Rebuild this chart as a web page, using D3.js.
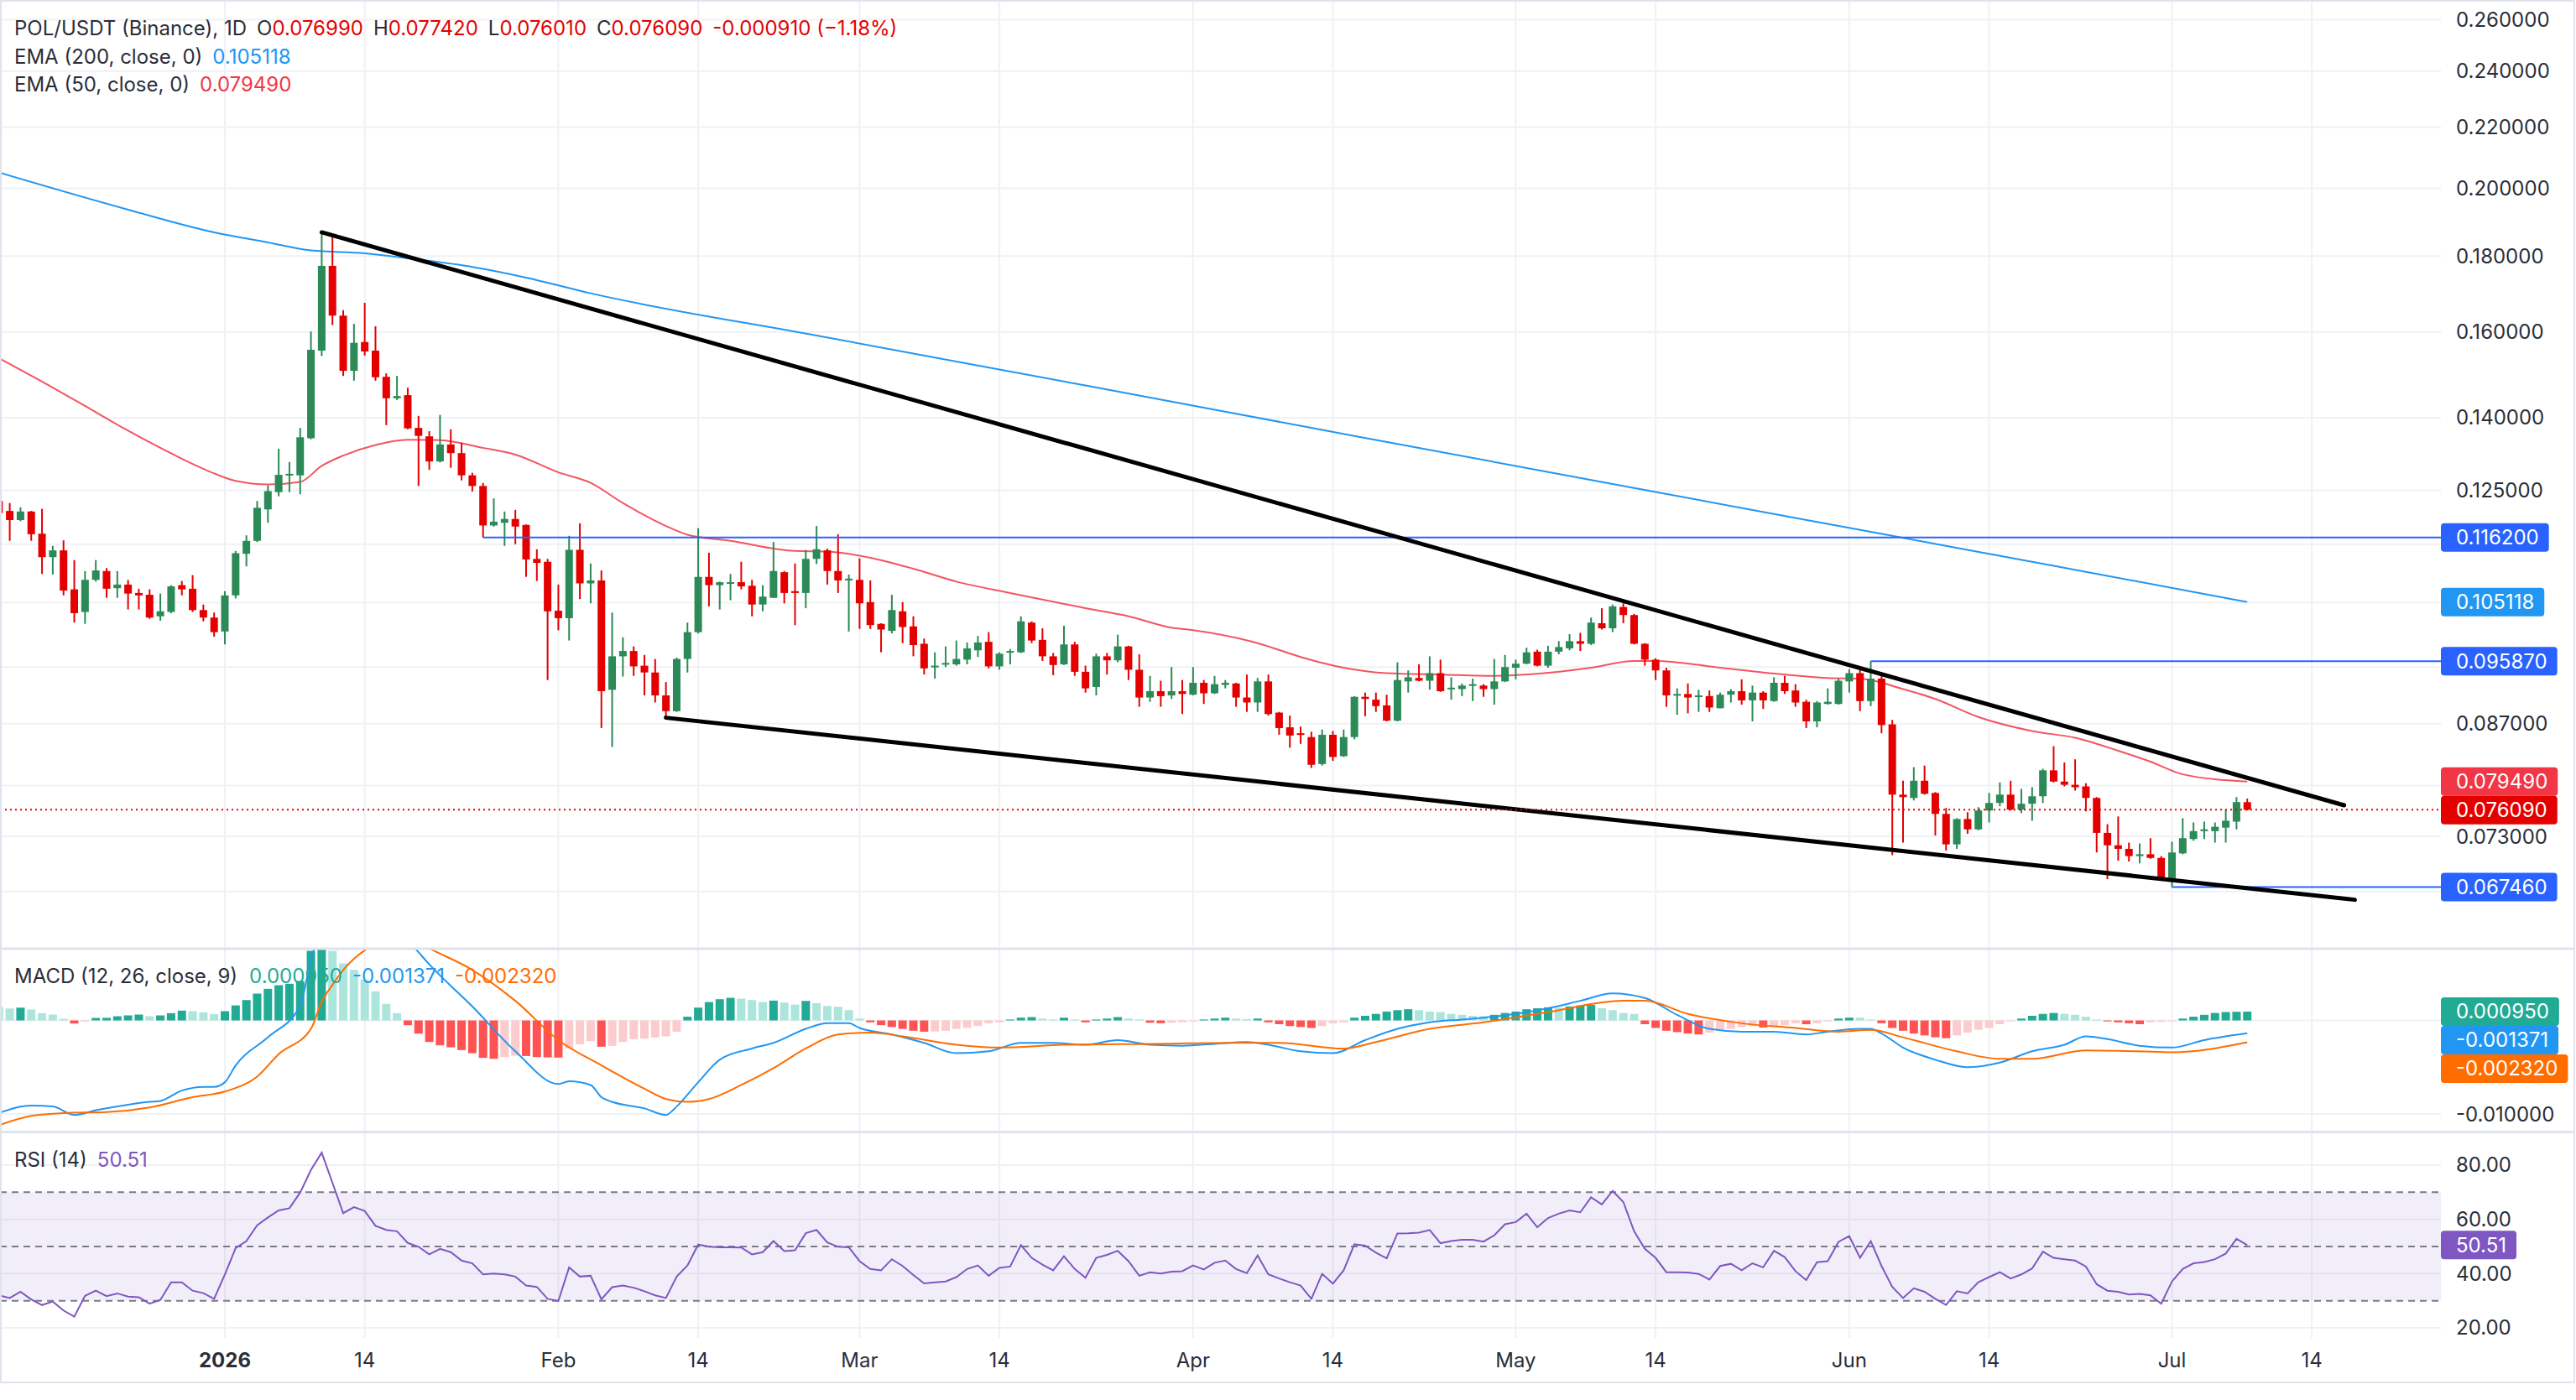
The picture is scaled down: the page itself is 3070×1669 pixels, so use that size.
<!DOCTYPE html>
<html>
<head>
<meta charset="utf-8">
<script src="https://cdn.jsdelivr.net/npm/d3@7"></script>
<style>
  html, body { margin: 0; padding: 0; background: #ffffff; }
  svg { display: block; font-family: Inter, "Noto Sans", sans-serif; }
</style>
</head>
<body>
<script>
// ---- data (days are counted from 2026-01-01, one candle per day) ----
const firstDay = -21;

const opens = [
  0.1230,0.1211,0.1194,0.1210,0.1169,0.1127,0.1139,0.1072,0.1035,0.1088,0.1103,0.1074,0.1080,0.1066,0.1063,0.1028,0.1035,0.1079,0.1073,0.1038,0.1026,
  0.1004,0.1062,0.1133,0.1156,0.1214,0.1247,0.1280,0.1280,0.1356,0.1554,
  0.1773,0.1641,0.1506,0.1575,0.1554,0.1492,0.1443,0.1450,0.1378,0.1360,
  0.1308,0.1343,0.1325,0.1280,0.1259,0.1184,0.1189,0.1196,0.1185,0.1124,
  0.1119,0.1037,0.1025,0.1140,0.1082,0.1087,0.0917,0.0966,0.0974,0.0952,
  0.0942,0.0909,0.0887,0.0962,0.1003,0.1093,0.1079,0.1082,0.1084,0.1078,
  0.1047,0.1058,0.1101,0.1069,0.1066,0.1124,0.1139,0.1103,0.1087,0.1088,
  0.1051,0.1016,0.1005,0.1036,0.1012,0.0985,0.0950,0.0954,0.0954,0.0961,
  0.0975,0.0988,0.0951,0.0972,0.0972,0.1018,0.0991,0.0966,0.0954,0.0984,
  0.0943,0.0921,0.0966,0.0960,0.0981,0.0946,0.0906,0.0915,0.0909,0.0915,
  0.0910,0.0927,0.0912,0.0924,0.0926,0.0906,0.0899,0.0929,0.0885,0.0865,
  0.0857,0.0852,0.0817,0.0855,0.0827,0.0852,0.0907,0.0903,0.0895,0.0874,
  0.0929,0.0934,0.0930,0.0941,0.0918,0.0918,0.0923,0.0923,0.0918,0.0929,
  0.0949,0.0955,0.0973,0.0952,0.0973,0.0978,0.0989,0.0985,0.1017,0.1009,
  0.1043,0.1030,0.0985,0.0961,0.0945,0.0909,0.0911,0.0907,0.0908,0.0891,
  0.0910,0.0915,0.0902,0.0913,0.0901,0.0927,0.0916,0.0900,0.0873,0.0897,
  0.0897,0.0929,0.0941,0.0901,0.0933,0.0869,0.0779,0.0775,0.0796,0.0781,
  0.0756,0.0721,0.0750,0.0738,0.0760,0.0769,0.0779,0.0761,0.0768,0.0777,
  0.0809,0.0795,0.0791,0.0789,0.0775,0.0734,0.0720,0.0716,0.0708,0.0710,
  0.0706,0.0684,0.0711,0.0727,0.0736,0.0736,0.0740,0.0747,0.07699
];
const highs = [
  0.1239,0.1226,0.1218,0.1211,0.1215,0.1147,0.1157,0.1122,0.1103,0.1122,0.1108,0.1103,0.1088,0.1073,0.1072,0.1065,0.1079,0.1086,0.1096,0.1047,0.1034,
  0.1069,0.1138,0.1166,0.1230,0.1260,0.1334,0.1307,0.1378,0.1601,0.1868,
  0.1858,0.1655,0.1620,0.1674,0.1614,0.1500,0.1494,0.1467,0.1404,0.1371,
  0.1406,0.1375,0.1346,0.1285,0.1265,0.1235,0.1210,0.1213,0.1186,0.1141,
  0.1124,0.1080,0.1165,0.1188,0.1116,0.1104,0.1034,0.0995,0.0981,0.0968,
  0.0962,0.0928,0.0964,0.1018,0.1179,0.1135,0.1085,0.1098,0.1119,0.1088,
  0.1079,0.1154,0.1103,0.1116,0.1140,0.1183,0.1142,0.1168,0.1097,0.1125,
  0.1087,0.1017,0.1063,0.1051,0.1028,0.0993,0.0972,0.0981,0.0990,0.0987,
  0.0997,0.1003,0.0972,0.0977,0.1028,0.1020,0.1009,0.0971,0.1013,0.0988,
  0.0952,0.0970,0.0971,0.0999,0.0982,0.0969,0.0937,0.0930,0.0950,0.0931,
  0.0950,0.0931,0.0937,0.0931,0.0927,0.0939,0.0934,0.0939,0.0886,0.0881,
  0.0866,0.0859,0.0862,0.0860,0.0862,0.0908,0.0913,0.0913,0.0910,0.0957,
  0.0945,0.0954,0.0966,0.0961,0.0935,0.0926,0.0933,0.0925,0.0962,0.0968,
  0.0961,0.0979,0.0976,0.0982,0.0989,0.1000,0.1002,0.1026,0.1041,0.1047,
  0.1049,0.1032,0.0986,0.0963,0.0949,0.0919,0.0926,0.0917,0.0916,0.0913,
  0.0918,0.0932,0.0923,0.0915,0.0935,0.0937,0.0925,0.0903,0.0901,0.0919,
  0.0933,0.0947,0.0946,0.09587,0.0939,0.0875,0.0796,0.0813,0.0815,0.0782,
  0.0763,0.0751,0.0758,0.0764,0.0781,0.0794,0.0796,0.0786,0.0788,0.0811,
  0.0840,0.0819,0.0823,0.0793,0.0776,0.0744,0.0753,0.0723,0.0722,0.0728,
  0.0708,0.0724,0.0751,0.0746,0.0747,0.0746,0.0761,0.0776,0.07742
];
const lows = [
  0.1194,0.1156,0.1192,0.1156,0.1098,0.1097,0.1062,0.1018,0.1016,0.1085,0.1058,0.1058,0.1039,0.1039,0.1024,0.1021,0.1033,0.1062,0.1035,0.1020,0.0996,
  0.0984,0.1057,0.1111,0.1154,0.1189,0.1239,0.1247,0.1243,0.1354,0.1541,
  0.1617,0.1494,0.1483,0.1542,0.1483,0.1384,0.1439,0.1375,0.1259,0.1291,
  0.1306,0.1295,0.1270,0.1248,0.1162,0.1182,0.1147,0.1150,0.1093,0.1086,
  0.0931,0.1006,0.0990,0.1056,0.1049,0.0864,0.0839,0.0936,0.0937,0.0909,
  0.0899,0.0878,0.0886,0.0942,0.1001,0.1044,0.1039,0.1054,0.1072,0.1028,
  0.1036,0.1058,0.1049,0.1014,0.1041,0.1115,0.1080,0.1066,0.1004,0.1008,
  0.1008,0.0972,0.1001,0.0986,0.0966,0.0939,0.0933,0.0950,0.0952,0.0954,
  0.0965,0.0948,0.0946,0.0954,0.0971,0.0986,0.0959,0.0938,0.0953,0.0937,
  0.0913,0.0909,0.0939,0.0957,0.0931,0.0893,0.0900,0.0893,0.0904,0.0883,
  0.0909,0.0897,0.0911,0.0919,0.0893,0.0886,0.0886,0.0881,0.0855,0.0838,
  0.0843,0.0812,0.0815,0.0821,0.0826,0.0849,0.0880,0.0886,0.0873,0.0873,
  0.0913,0.0929,0.0917,0.0914,0.0903,0.0908,0.0901,0.0907,0.0896,0.0928,
  0.0932,0.0954,0.0951,0.0949,0.0969,0.0975,0.0974,0.0983,0.1007,0.1003,
  0.1017,0.0984,0.0952,0.0931,0.0893,0.0882,0.0884,0.0886,0.0886,0.0891,
  0.0899,0.0896,0.0873,0.0890,0.0900,0.0911,0.0893,0.0864,0.0865,0.0896,
  0.0896,0.0913,0.0887,0.0894,0.0857,0.0709,0.0723,0.0772,0.0779,0.0731,
  0.0714,0.0716,0.0733,0.0737,0.0746,0.0765,0.0760,0.0757,0.0748,0.0769,
  0.0794,0.0789,0.0784,0.0759,0.0712,0.0683,0.0703,0.0702,0.0700,0.0705,
  0.0682,0.06746,0.0710,0.0725,0.0727,0.0723,0.0723,0.0738,0.07601
];
const closes = [
  0.1207,0.1194,0.1210,0.1168,0.1127,0.1139,0.1070,0.1033,0.1088,0.1104,0.1073,0.1080,0.1065,0.1062,0.1026,0.1036,0.1077,0.1072,0.1038,0.1026,0.1003,
  0.1062,0.1134,0.1156,0.1217,0.1249,0.1281,0.1283,0.1358,0.1556,0.1773,
  0.1641,0.1506,0.1573,0.1552,0.1491,0.1443,0.1448,0.1377,0.1361,0.1308,
  0.1343,0.1325,0.1280,0.1259,0.1184,0.1191,0.1196,0.1182,0.1123,0.1117,
  0.1036,0.1025,0.1140,0.1082,0.1087,0.0915,0.0966,0.0974,0.0951,0.0942,
  0.0909,0.0887,0.0962,0.1003,0.1093,0.1079,0.1084,0.1084,0.1077,0.1047,
  0.1060,0.1103,0.1066,0.1066,0.1124,0.1141,0.1103,0.1087,0.1090,0.1049,
  0.1014,0.1007,0.1038,0.1011,0.0983,0.0948,0.0952,0.0956,0.0962,0.0978,
  0.0987,0.0951,0.0970,0.0974,0.1020,0.0990,0.0966,0.0953,0.0984,0.0943,
  0.0919,0.0966,0.0960,0.0981,0.0946,0.0906,0.0915,0.0908,0.0915,0.0911,
  0.0927,0.0912,0.0925,0.0927,0.0906,0.0899,0.0929,0.0883,0.0864,0.0854,
  0.0855,0.0816,0.0855,0.0826,0.0852,0.0907,0.0904,0.0894,0.0874,0.0931,
  0.0935,0.0930,0.0941,0.0915,0.0920,0.0923,0.0925,0.0918,0.0929,0.0950,
  0.0955,0.0972,0.0952,0.0973,0.0980,0.0989,0.0985,0.1018,0.1009,0.1044,
  0.1030,0.0985,0.0961,0.0945,0.0909,0.0911,0.0906,0.0909,0.0892,0.0910,
  0.0915,0.0902,0.0913,0.0902,0.0927,0.0915,0.0899,0.0873,0.0899,0.0900,
  0.0930,0.0941,0.0901,0.0933,0.0868,0.0779,0.0776,0.0796,0.0780,0.0756,
  0.0721,0.0750,0.0738,0.0760,0.0769,0.0779,0.0761,0.0768,0.0777,0.0809,
  0.0795,0.0791,0.0788,0.0775,0.0734,0.0720,0.0716,0.0708,0.0710,0.0706,
  0.0684,0.0712,0.0728,0.0736,0.0738,0.0741,0.0748,0.0770,0.07609
];

const ema200Days   = [-21, -9, -1, 4, 8, 13, 17, 23, 28, 34, 55, 80, 105, 131, 155, 170, 188];
const ema200Values = [0.2050, 0.1935, 0.1868, 0.1839, 0.1816, 0.1808, 0.1794, 0.1770, 0.1741, 0.1699, 0.1591, 0.1472, 0.1361, 0.1255, 0.1165, 0.1112, 0.105118];

const ema50Days   = [-21, -17, -13, -10, -6, -2, 1, 4, 7, 9, 11, 14, 17, 20, 24, 27, 31, 34, 37, 41, 43, 47, 53, 56, 60, 64, 68, 73, 80, 84, 88, 90, 96, 100, 104, 108, 113, 118, 122, 127, 131, 133, 139, 143, 149, 152, 156, 159, 163, 168, 172, 176, 179, 182, 188];
const ema50Values = [0.1536, 0.1481, 0.1426, 0.1385, 0.1336, 0.1293, 0.1269, 0.1262, 0.1267, 0.1299, 0.1320, 0.1342, 0.1353, 0.1352, 0.1336, 0.1322, 0.1286, 0.1265, 0.1226, 0.1183, 0.1167, 0.1156, 0.1138, 0.1137, 0.1126, 0.1107, 0.1085, 0.1066, 0.1041, 0.1028, 0.1010, 0.1006, 0.0986, 0.0965, 0.0949, 0.0941, 0.0939, 0.0937, 0.0940, 0.0949, 0.0959, 0.0959, 0.0949, 0.0942, 0.0934, 0.0933, 0.0918, 0.0904, 0.0879, 0.0860, 0.0851, 0.0834, 0.0820, 0.0804, 0.07949];

const macdHist = [
  0.00143,0.00128,0.00137,0.00117,0.00078,0.00063,0.00018,-0.00033,-0.00012,0.00027,0.00028,0.00045,0.00054,0.00063,0.00045,0.00054,0.00078,0.00105,0.00099,0.00087,0.00069,
  0.00099,0.00161,0.00218,0.00287,0.00338,0.00377,0.00392,0.00422,0.00744,0.0080,
  0.00744,0.0061,0.00541,0.00437,0.00311,0.00177,0.00078,-0.00051,-0.00141,-0.0023,
  -0.00266,-0.00287,-0.00317,-0.0035,-0.0040,-0.0041,-0.00392,-0.00377,-0.0038,-0.00392,
  -0.00395,-0.00397,-0.0030,-0.00254,-0.00221,-0.00281,-0.00272,-0.0023,-0.0020,-0.00195,
  -0.00182,-0.0017,-0.0012,0.0004,0.00137,0.00197,0.00227,0.00242,0.00233,0.00218,
  0.00197,0.00212,0.00191,0.0017,0.00209,0.00185,0.00155,0.00146,0.0011,0.0002,
  -0.0002,-0.0005,-0.0007,-0.0009,-0.0011,-0.0012,-0.00118,-0.0011,-0.0009,-0.0008,
  -0.0006,-0.0003,-0.0002,0.0001,0.0003,0.00036,0.0002,0.0001,0.0003,0.0001,
  -0.0002,0.0001,0.0002,0.00036,0.0002,0.0001,-0.00024,-0.0003,-0.00024,-0.00018,
  -0.0001,0.0001,0.0002,0.0003,0.0002,0.00015,0.0002,-0.0002,-0.0004,-0.0006,
  -0.0007,-0.0008,-0.0006,-0.0003,-0.0002,0.0003,0.0005,0.0007,0.00095,0.0011,
  0.0012,0.0011,0.00095,0.0009,0.0007,0.0006,0.0005,0.00045,0.0006,0.0008,
  0.00095,0.0012,0.0013,0.0014,0.00135,0.0015,0.0016,0.00165,0.0013,0.0011,
  0.0008,0.0007,-0.0004,-0.0008,-0.0011,-0.00125,-0.0014,-0.0015,-0.0013,-0.0010,
  -0.0009,-0.0007,-0.0006,-0.00075,-0.0007,-0.0005,-0.0003,-0.0004,-0.0003,-0.0001,
  0.0002,0.0003,0.0003,0.0001,-0.0003,-0.0008,-0.0011,-0.0014,-0.0016,-0.0018,
  -0.0019,-0.0016,-0.0013,-0.0010,-0.0008,-0.0004,-0.0001,0.0002,0.0005,0.0007,
  0.0008,0.0007,0.0006,0.0004,0.0001,-0.0001,-0.0002,-0.0003,-0.0004,-0.0002,
  -0.00015,-0.0001,0.0002,0.0004,0.0006,0.0008,0.0009,0.00093,0.00095
];

const macdDays   = [-21,-18,-16,-14,-12,-9,-7,-6,-4,-2,-1,0,1,4,7,8,9,10,11,12,13,14,15,16,17,18,19,23,27,31,32,34,35,36,39,41,42,44,46,49,51,54,56,58,59,62,65,68,71,74,77,80,83,86,89,92,95,97,100,103,106,109,112,115,117,120,123,126,129,132,135,138,141,144,147,149,152,153,154,156,159,162,165,168,171,173,175,178,181,184,188];
const macdValues = [-0.0099,-0.0091,-0.0092,-0.0101,-0.0096,-0.0090,-0.0087,-0.0086,-0.0075,-0.0071,-0.0071,-0.0066,-0.0048,-0.0018,0.0016,0.0065,0.0100,0.0120,0.0125,0.0126,0.0124,0.0118,0.0109,0.0100,0.0086,0.0073,0.0060,0.0015,-0.0033,-0.0068,-0.0065,-0.0069,-0.0082,-0.0087,-0.0094,-0.0101,-0.0092,-0.0066,-0.0042,-0.0030,-0.0024,-0.0009,-0.0003,-0.0003,-0.0008,-0.0015,-0.0024,-0.0035,-0.0033,-0.0024,-0.0024,-0.0026,-0.0021,-0.0026,-0.0027,-0.0025,-0.0023,-0.0026,-0.0033,-0.0035,-0.0021,-0.0009,-0.0002,0.0001,0.0003,0.0007,0.0013,0.0021,0.0029,0.0024,0.0006,-0.0009,-0.0012,-0.0012,-0.0015,-0.0012,-0.0009,-0.0009,-0.0014,-0.0029,-0.0042,-0.0050,-0.0045,-0.0033,-0.0026,-0.0017,-0.0020,-0.0027,-0.0029,-0.0021,-0.001371];

const signalDays   = [-21,-18,-15,-11,-7,-3,0,3,5,8,9,10,11,12,13,14,15,16,17,18,19,23,27,31,35,39,41,43,45,48,51,54,57,60,63,68,72,78,86,94,98,104,107,112,117,123,130,132,136,141,146,150,153,156,161,165,168,173,178,181,188];
const signalValues = [-0.0112,-0.0102,-0.0099,-0.0098,-0.0093,-0.0082,-0.0076,-0.0060,-0.0036,-0.0009,0.0020,0.0038,0.0054,0.0066,0.0075,0.0082,0.0086,0.0088,0.0087,0.0083,0.0077,0.0054,0.0021,-0.0021,-0.0048,-0.0073,-0.0084,-0.0087,-0.0084,-0.0069,-0.0051,-0.0030,-0.0015,-0.0013,-0.0017,-0.0026,-0.0029,-0.0026,-0.0025,-0.0024,-0.0024,-0.0030,-0.0023,-0.0009,-0.0002,0.0009,0.0021,0.0021,0.0007,-0.0003,-0.0008,-0.0012,-0.0010,-0.0018,-0.0033,-0.0041,-0.0041,-0.0032,-0.0033,-0.0034,-0.00232];

const rsiValues = [
  32.0,31.0,33.3,30.5,28.4,29.7,26.4,24.1,31.8,33.7,31.7,32.7,31.5,31.3,28.9,30.3,36.8,36.8,33.7,32.8,30.7,
  39.7,49.4,52.0,57.8,60.7,63.3,64.1,69.9,78.2,84.6,
  73.5,62.3,64.5,63.1,57.6,56.1,55.6,51.3,49.9,47.1,
  49.1,47.9,44.8,43.8,39.7,40.0,39.7,38.9,35.6,35.1,
  30.7,29.9,42.3,38.9,39.2,30.5,35.0,35.6,34.8,33.5,
  32.0,31.0,38.9,43.0,50.7,49.9,49.7,49.7,49.6,47.1,
  47.9,52.0,48.3,48.6,54.9,56.1,51.5,49.9,49.7,44.6,
  41.7,41.2,45.3,42.8,39.5,36.4,36.8,37.1,38.7,41.7,
  43.0,39.2,42.1,42.6,50.5,45.8,43.3,41.2,46.4,41.7,
  38.5,45.8,46.9,48.4,44.6,39.2,40.5,40.0,40.7,40.9,
  43.0,41.5,44.0,44.8,41.7,40.2,46.7,39.7,38.2,36.8,
  35.6,30.7,39.9,36.3,41.2,50.8,50.3,47.7,45.6,54.8,
  54.9,55.1,56.1,51.2,52.0,52.5,52.5,51.8,54.1,58.2,
  59.0,62.1,57.1,60.5,62.1,63.3,62.6,68.1,65.5,70.5,
  66.4,55.6,49.1,45.8,40.5,40.5,40.4,39.9,37.8,42.8,
  43.6,41.2,43.8,42.3,48.4,46.1,40.9,37.6,44.2,44.6,
  51.7,53.8,45.8,52.0,42.8,35.1,31.0,34.6,33.3,30.7,
  28.4,33.5,32.7,36.8,38.7,40.5,38.2,39.7,41.9,48.1,
  45.8,45.3,44.8,42.6,36.1,33.7,33.3,32.3,32.5,32.0,
  28.9,37.1,41.7,43.8,44.3,45.3,47.4,52.8,50.51
];

// drawn levels and trend lines
const levelPrices = [0.1162, 0.09587, 0.06746];
const levelStartDays = [24, 153, 181];
const upperTrendDays = [9, 197], upperTrendPrices = [0.1868, 0.07662];
const lowerTrendDays = [41, 198], lowerTrendPrices = [0.0878, 0.06615];

// axis ticks
const priceTicks = [0.26, 0.24, 0.22, 0.20, 0.18, 0.16, 0.14, 0.125, 0.115, 0.105, 0.095, 0.087, 0.079, 0.073, 0.067];
const macdTicks = [0, -0.01];
const rsiTicks = [80, 60, 40, 20];
const rsiBands = [70, 50, 30];
const timeTickDates = ["2026-01-01","2026-01-14","2026-02-01","2026-02-14","2026-03-01","2026-03-14","2026-04-01","2026-04-14","2026-05-01","2026-05-14","2026-06-01","2026-06-14","2026-07-01","2026-07-14"];
const timeTickLabels = ["2026","14","Feb","14","Mar","14","Apr","14","May","14","Jun","14","Jul","14"];

// ---- layout ----
const W = 3070, H = 1669;
const plotRight = 2909, frameRight = 3068, frameBottom = 1648;
const priceTop = 0, priceBottom = 1130;
const macdTop = 1131, macdBottom = 1348;
const rsiTop = 1350, rsiBottom = 1595;
const fontSize = 24;

const upColor = "#2b8a57", downColor = "#e50000";
const gridColor = "#f0f1f4", textColor = "#2a2e39";

const dayMs = 864e5, base = Date.UTC(2026, 0, 1);
const toDate = d => new Date(base + d * dayMs);

const x = d3.scaleUtc().domain([toDate(-20.905), toDate(206)]).range([0, plotRight]);
const yP = d3.scaleLog().domain([0.06138, 0.2681]).range([priceBottom, priceTop]);
const yM = d3.scaleLinear().domain([-0.01179, 0.00767]).range([macdBottom, macdTop]);
const yR = d3.scaleLinear().domain([16.28, 92.06]).range([rsiBottom, rsiTop]);

const svg = d3.select("body").append("svg")
  .attr("width", W).attr("height", H)
  .attr("font-size", fontSize);

svg.append("rect").attr("width", W).attr("height", H).attr("fill", "#ffffff");

const defs = svg.append("defs");
[["clipPrice", priceTop, priceBottom], ["clipMacd", macdTop, macdBottom], ["clipRsi", rsiTop, rsiBottom]]
  .forEach(([id, t, b]) => {
    defs.append("clipPath").attr("id", id)
      .append("rect").attr("x", 0).attr("y", t).attr("width", plotRight).attr("height", b - t);
  });

// ---- grid ----
const grid = svg.append("g").attr("stroke", gridColor).attr("stroke-width", 2);
timeTickDates.forEach(s => {
  const xv = x(new Date(s + "T00:00:00Z"));
  [[priceTop, priceBottom], [macdTop, macdBottom], [rsiTop, rsiBottom]].forEach(([t, b]) => {
    grid.append("line").attr("x1", xv).attr("x2", xv).attr("y1", t).attr("y2", b);
  });
});
priceTicks.forEach(v => grid.append("line").attr("x1", 0).attr("x2", plotRight).attr("y1", yP(v)).attr("y2", yP(v)));
macdTicks.forEach(v => grid.append("line").attr("x1", 0).attr("x2", plotRight).attr("y1", yM(v)).attr("y2", yM(v)));
rsiTicks.forEach(v => grid.append("line").attr("x1", 0).attr("x2", plotRight).attr("y1", yR(v)).attr("y2", yR(v)));

// ---- price pane ----
const candles = opens.map((o, i) => ({
  date: toDate(firstDay + i), o: o, h: highs[i], l: lows[i], c: closes[i]
}));
const last = candles[candles.length - 1];
const prev = candles[candles.length - 2];

const pricePane = svg.append("g").attr("clip-path", "url(#clipPrice)");

const emaLine = d3.line().x(d => x(toDate(d[0]))).y(d => yP(d[1])).curve(d3.curveMonotoneX);
pricePane.append("path")
  .datum(ema200Days.map((d, i) => [d, ema200Values[i]]))
  .attr("d", emaLine).attr("fill", "none").attr("stroke", "#2196f3").attr("stroke-width", 2);
pricePane.append("path")
  .datum(ema50Days.map((d, i) => [d, ema50Values[i]]))
  .attr("d", emaLine).attr("fill", "none").attr("stroke", "#f23645").attr("stroke-opacity", 0.85).attr("stroke-width", 2);

const bodyW = 9;
const cg = pricePane.append("g");
cg.selectAll("line").data(candles).enter().append("line")
  .attr("x1", d => x(d.date)).attr("x2", d => x(d.date))
  .attr("y1", d => yP(d.h)).attr("y2", d => yP(d.l))
  .attr("stroke", d => d.c >= d.o ? upColor : downColor).attr("stroke-width", 2);
cg.selectAll("rect").data(candles).enter().append("rect")
  .attr("x", d => x(d.date) - bodyW / 2).attr("width", bodyW)
  .attr("y", d => yP(Math.max(d.o, d.c)))
  .attr("height", d => Math.max(2, Math.abs(yP(d.o) - yP(d.c))))
  .attr("fill", d => d.c >= d.o ? upColor : downColor);

// horizontal levels
levelPrices.forEach((p, i) => {
  pricePane.append("line")
    .attr("x1", x(toDate(levelStartDays[i]))).attr("x2", plotRight)
    .attr("y1", yP(p)).attr("y2", yP(p))
    .attr("stroke", "#2962ff").attr("stroke-width", 2);
});

// trend lines
[[upperTrendDays, upperTrendPrices], [lowerTrendDays, lowerTrendPrices]].forEach(([ds, ps]) => {
  pricePane.append("line")
    .attr("x1", x(toDate(ds[0]))).attr("y1", yP(ps[0]))
    .attr("x2", x(toDate(ds[1]))).attr("y2", yP(ps[1]))
    .attr("stroke", "#000").attr("stroke-width", 5).attr("stroke-linecap", "round");
});

// last price line
pricePane.append("line")
  .attr("x1", 0).attr("x2", plotRight)
  .attr("y1", yP(last.c)).attr("y2", yP(last.c))
  .attr("stroke", downColor).attr("stroke-width", 2).attr("stroke-dasharray", "2 4");

// ---- MACD pane ----
const macdPane = svg.append("g").attr("clip-path", "url(#clipMacd)");
const histW = 10;
macdPane.selectAll("rect").data(macdHist).enter().append("rect")
  .attr("x", (v, i) => x(toDate(firstDay + i)) - histW / 2).attr("width", histW)
  .attr("y", v => Math.min(yM(v), yM(0)))
  .attr("height", v => Math.abs(yM(v) - yM(0)))
  .attr("fill", (v, i) => {
    const p = i > 0 ? macdHist[i - 1] : v;
    if (v >= 0) return v > p ? "#22ab94" : "#ace5dc";
    return v < p ? "#ff5252" : "#fccbcd";
  });
const mline = d3.line().x(d => x(toDate(d[0]))).y(d => yM(d[1])).curve(d3.curveMonotoneX);
macdPane.append("path").datum(macdDays.map((d, i) => [d, macdValues[i]]))
  .attr("d", mline).attr("fill", "none").attr("stroke", "#2196f3").attr("stroke-width", 2);
macdPane.append("path").datum(signalDays.map((d, i) => [d, signalValues[i]]))
  .attr("d", mline).attr("fill", "none").attr("stroke", "#ff6d00").attr("stroke-width", 2);

// ---- RSI pane ----
const rsiPane = svg.append("g").attr("clip-path", "url(#clipRsi)");
rsiPane.append("rect").attr("x", 0).attr("width", plotRight)
  .attr("y", yR(rsiBands[0])).attr("height", yR(rsiBands[2]) - yR(rsiBands[0]))
  .attr("fill", "#7e57c2").attr("fill-opacity", 0.1);
rsiBands.forEach(v => rsiPane.append("line")
  .attr("x1", 0).attr("x2", plotRight).attr("y1", yR(v)).attr("y2", yR(v))
  .attr("stroke", "#787b86").attr("stroke-width", 2).attr("stroke-dasharray", "8 6"));
rsiPane.append("path")
  .datum(rsiValues)
  .attr("d", d3.line().x((v, i) => x(toDate(firstDay + i))).y(v => yR(v)))
  .attr("fill", "none").attr("stroke", "#7e57c2").attr("stroke-width", 2);

// ---- separators and frame ----
svg.append("line").attr("x1", 0).attr("x2", frameRight).attr("y1", 1131).attr("y2", 1131)
  .attr("stroke", "#e0e3eb").attr("stroke-width", 3);
svg.append("line").attr("x1", 0).attr("x2", frameRight).attr("y1", 1349.5).attr("y2", 1349.5)
  .attr("stroke", "#e0e3eb").attr("stroke-width", 3);
svg.append("rect").attr("x", 1).attr("y", 1).attr("width", frameRight - 1).attr("height", frameBottom - 1)
  .attr("fill", "none").attr("stroke", "#e0e3eb").attr("stroke-width", 2);

// ---- right axis tags ----
const tagH = 34;
function drawTags(list) {
  // list: [value y, text, colour]; keep them from overlapping, top to bottom
  list.sort((a, b) => a[0] - b[0]);
  let prevY = -Infinity;
  list.forEach(t => {
    t[0] = Math.max(t[0], prevY + tagH);
    prevY = t[0];
  });
  list.forEach(([yv, txt, col]) => {
    const g = svg.append("g");
    const r = g.append("rect").attr("x", plotRight).attr("y", yv - tagH / 2).attr("height", tagH).attr("rx", 4).attr("fill", col);
    const tx = g.append("text").attr("x", plotRight + 18).attr("y", yv).attr("dominant-baseline", "central")
      .attr("fill", "#fff").text(txt);
    r.attr("width", tx.node().getComputedTextLength() + 30);
  });
  return list.map(t => t[0]);
}
const fmt6 = v => v.toFixed(6);
const priceTags = [
  [yP(levelPrices[0]), fmt6(levelPrices[0]), "#2962ff"],
  [yP(ema200Values[ema200Values.length - 1]), fmt6(ema200Values[ema200Values.length - 1]), "#2196f3"],
  [yP(levelPrices[1]), fmt6(levelPrices[1]), "#2962ff"],
  [yP(ema50Values[ema50Values.length - 1]), fmt6(ema50Values[ema50Values.length - 1]), "#f23645"],
  [yP(last.c), fmt6(last.c), downColor],
  [yP(levelPrices[2]), fmt6(levelPrices[2]), "#2962ff"]
];
const macdNow = macdValues[macdValues.length - 1], sigNow = signalValues[signalValues.length - 1], histNow = macdHist[macdHist.length - 1];
const macdTags = [
  [yM(histNow), fmt6(histNow), "#22ab94"],
  [yM(macdNow), fmt6(macdNow), "#2196f3"],
  [yM(sigNow), fmt6(sigNow), "#ff6d00"]
];
const rsiNow = rsiValues[rsiValues.length - 1];
const rsiTags = [[yR(rsiNow), rsiNow.toFixed(2), "#7e57c2"]];

const tagYs = drawTags(priceTags).concat(drawTags(macdTags), drawTags(rsiTags));
const free = yv => tagYs.every(t => Math.abs(t - yv) > tagH * 0.8);

const axisText = svg.append("g").attr("fill", textColor);
priceTicks.filter(v => free(yP(v))).forEach(v => axisText.append("text")
  .attr("x", plotRight + 18).attr("y", yP(v)).attr("dominant-baseline", "central").text(fmt6(v)));
macdTicks.filter(v => free(yM(v))).forEach(v => axisText.append("text")
  .attr("x", plotRight + 18).attr("y", yM(v)).attr("dominant-baseline", "central").text(fmt6(v)));
rsiTicks.filter(v => free(yR(v))).forEach(v => axisText.append("text")
  .attr("x", plotRight + 18).attr("y", yR(v)).attr("dominant-baseline", "central").text(v.toFixed(2)));

// time axis
timeTickDates.forEach((s, i) => {
  axisText.append("text")
    .attr("x", x(new Date(s + "T00:00:00Z"))).attr("y", 1621)
    .attr("text-anchor", "middle").attr("dominant-baseline", "central")
    .attr("font-weight", i === 0 ? 700 : 400)
    .text(timeTickLabels[i]);
});

// ---- legends ----
function legend(yv, parts) {
  const t = svg.append("text").attr("x", 17).attr("y", yv).attr("dominant-baseline", "central").attr("fill", textColor);
  parts.forEach(([txt, col, dx]) => {
    t.append("tspan").attr("dx", dx || 0).attr("fill", col || textColor).text(txt);
  });
}
const chg = last.c - prev.c;
legend(33, [
  ["POL/USDT (Binance), 1D"],
  ["O", null, 12], [fmt6(last.o), downColor],
  ["H", null, 12], [fmt6(last.h), downColor],
  ["L", null, 12], [fmt6(last.l), downColor],
  ["C", null, 12], [fmt6(last.c), downColor],
  [fmt6(chg) + " (\u2212" + Math.abs(chg / prev.c * 100).toFixed(2) + "%)", downColor, 12]
]);
legend(66.5, [["EMA (200, close, 0)"], [fmt6(ema200Values[ema200Values.length - 1]), "#2196f3", 12]]);
legend(100, [["EMA (50, close, 0)"], [fmt6(ema50Values[ema50Values.length - 1]), "#f23645", 12]]);
legend(1163, [["MACD (12, 26, close, 9)"], [fmt6(histNow), "#22ab94", 14], [fmt6(macdNow), "#2196f3", 12], [fmt6(sigNow), "#ff6d00", 12]]);
legend(1382, [["RSI (14)"], [rsiNow.toFixed(2), "#7e57c2", 12]]);
</script>
</body>
</html>
